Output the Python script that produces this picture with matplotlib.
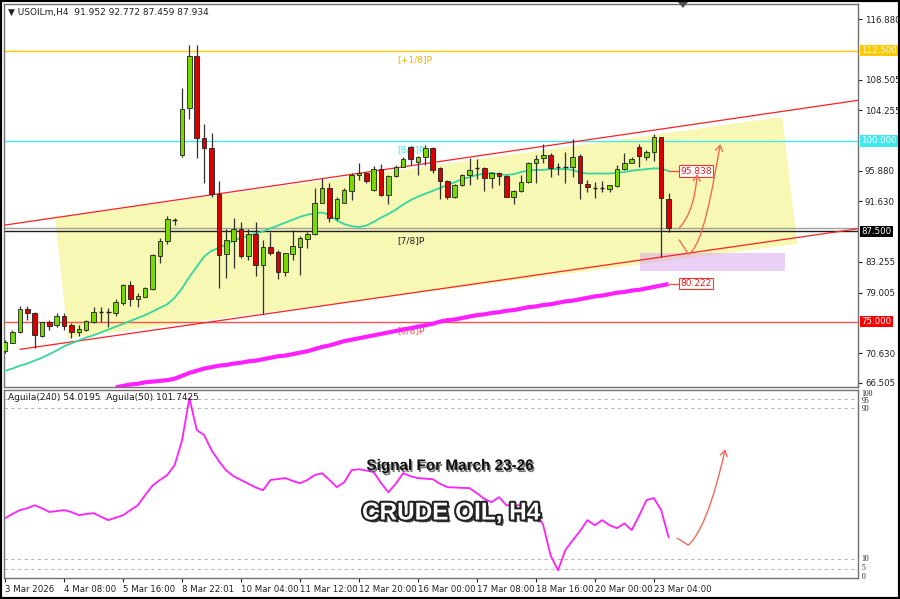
import matplotlib
matplotlib.use("Agg")
import matplotlib.pyplot as plt
import numpy as np
from matplotlib.patches import Polygon, Rectangle, FancyArrowPatch
from matplotlib.path import Path
import matplotlib.patheffects as pe
import matplotlib.transforms as mtrans

# ---------------- data ----------------
opens = [71.0, 72.09, 73.62, 76.71, 76.25, 73.02, 74.9, 74.54, 75.8, 74.54,
         73.52, 73.85, 74.95, 76.38, 76.4, 76.25, 77.63, 80.07, 78.09, 78.46,
         79.57, 84.09, 86.21, 89.1, 98.06, 104.52, 111.76, 100.46, 98.98, 92.62,
         84.36, 86.21, 87.82, 84.09, 87.13, 82.84, 85.38, 84.69, 81.92, 84.36,
         85.38, 86.44, 87.13, 91.47, 93.45, 89.3, 91.46, 93.12, 95.29, 95.61,
         93.21, 96.07, 92.52, 95.15, 96.44, 99.12, 97.14, 97.73, 98.98, 96.21,
         94.46, 92.29, 93.91, 95.29, 96.2, 96.3, 94.83, 95.52, 95.15, 92.29,
         93.07, 94.37, 97.0, 97.6, 98.06, 96.44, 96.4, 96.44, 97.92, 94.05,
         93.54, 93.44, 93.3, 93.77, 96.07, 97.0, 99.12, 97.83, 98.52, 100.5,
         91.952]
highs = [72.5, 73.8, 77.17, 77.17, 76.4, 75.0, 75.25, 76.15, 76.25, 74.77,
         74.54, 75.23, 77.08, 77.08, 76.85, 78.09, 80.21, 80.67, 78.9, 79.75,
         84.3, 86.53, 89.62, 89.3, 107.38, 113.28, 113.28, 102.35, 101.06, 94.46,
         87.82, 89.3, 88.84, 87.82, 88.84, 86.3, 87.45, 84.92, 84.55, 87.68,
         86.85, 87.45, 93.45, 94.92, 94.14, 92.2, 93.44, 95.52, 96.99, 95.75,
         96.53, 96.77, 95.29, 96.67, 97.83, 99.3, 97.92, 99.44, 99.21, 96.44,
         94.6, 94.0, 95.43, 97.69, 97.46, 96.44, 95.75, 95.66, 95.29, 93.21,
         95.29, 97.14, 98.06, 99.58, 98.29, 96.9, 98.52, 100.22, 98.2, 94.6,
         94.37, 94.46, 93.9, 96.67, 98.29, 97.73, 99.53, 98.75, 100.96, 100.6,
         92.772]
lows = [70.6, 72.0, 73.4, 75.23, 71.31, 72.9, 73.85, 74.3, 73.85, 72.7,
        73.0, 73.75, 74.77, 75.0, 74.2, 75.78, 77.31, 77.17, 77.08, 78.37,
        79.38, 83.07, 85.75, 88.4, 97.83, 102.99, 97.69, 94.14, 92.3, 79.61,
        81.0, 82.38, 83.77, 83.53, 81.32, 76.02, 84.23, 80.86, 81.32, 83.53,
        81.46, 85.15, 86.99, 91.37, 88.84, 89.0, 91.37, 91.83, 94.6, 94.14,
        93.12, 92.38, 91.28, 95.06, 96.35, 96.67, 95.29, 96.67, 95.61, 91.92,
        91.92, 92.06, 93.77, 93.91, 94.69, 93.12, 93.54, 93.9, 92.2, 91.23,
        92.98, 94.14, 94.14, 97.0, 95.06, 95.29, 94.14, 95.06, 91.92, 92.98,
        92.06, 92.98, 92.94, 93.67, 95.98, 96.9, 96.44, 97.37, 97.27, 83.99,
        87.459]
closes = [72.2, 73.62, 76.71, 76.25, 73.16, 74.91, 74.45, 75.83, 74.4, 73.62,
          73.94, 75.09, 76.29, 76.4, 76.35, 77.68, 80.07, 78.09, 78.6, 79.61,
          84.18, 86.21, 89.16, 89.15, 104.43, 111.76, 100.46, 98.98, 92.62, 84.23,
          86.3, 87.78, 84.09, 87.13, 82.84, 85.38, 84.55, 81.92, 84.46, 85.47,
          86.53, 87.13, 91.47, 93.45, 89.3, 91.92, 93.21, 95.29, 95.61, 94.5,
          96.07, 92.52, 95.15, 96.44, 97.46, 97.46, 97.73, 98.98, 95.98, 94.46,
          92.29, 93.91, 95.29, 95.98, 96.2, 94.83, 95.52, 95.15, 92.29, 93.12,
          94.37, 97.0, 97.46, 98.06, 96.21, 96.44, 96.5, 97.83, 94.14, 93.67,
          93.54, 93.5, 93.86, 96.07, 97.0, 97.55, 97.92, 98.52, 100.5, 92.06,
          87.934]

ma_fast = [68.2, 68.5, 68.9, 69.2, 69.6, 70.0, 70.5, 71.0, 71.6, 72.0,
           72.4, 72.8, 73.1, 73.5, 73.9, 74.3, 74.7, 75.1, 75.5, 75.9,
           76.4, 76.9, 77.4, 78.3, 79.6, 81.2, 82.6, 84.0, 84.8, 85.2,
           85.7, 86.2, 86.6, 86.9, 87.2, 87.5, 87.9, 88.3, 88.7, 89.1,
           89.5, 89.8, 90.0, 90.1, 89.8, 89.0, 88.5, 88.2, 88.1, 88.3,
           88.8, 89.4, 89.9, 90.5, 91.2, 91.8, 92.3, 92.7, 93.1, 93.5,
           93.9, 94.3, 94.7, 95.0, 95.3, 95.5, 95.6, 95.4, 95.3, 95.4,
           95.7, 95.9, 96.0, 96.0, 96.1, 96.1, 96.1, 96.0, 95.6, 95.5,
           95.5, 95.5, 95.5, 95.6, 95.7, 95.9, 96.0, 96.1, 96.2, 96.2,
           95.84]

ma_slow = [np.nan] * 15 + [
    65.9, 66.1, 66.3, 66.4, 66.6, 66.7, 66.8, 66.9, 67.1, 67.5,
    67.9, 68.2, 68.5, 68.7, 68.9, 69.0, 69.2, 69.3, 69.5, 69.6,
    69.8, 70.0, 70.2, 70.3, 70.5, 70.7, 70.9, 71.2, 71.5, 71.7,
    72.0, 72.3, 72.5, 72.7, 72.9, 73.1, 73.3, 73.5, 73.7, 73.9,
    74.1, 74.3, 74.5, 74.7, 75.0, 75.2, 75.3, 75.5, 75.7, 75.9,
    76.0, 76.2, 76.3, 76.5, 76.6, 76.8, 77.0, 77.1, 77.3, 77.4,
    77.6, 77.8, 77.9, 78.1, 78.3, 78.5, 78.6, 78.8, 79.0, 79.1,
    79.3, 79.4, 79.6, 79.8, 80.0, 80.2]

osc = [31.7, 34, 36, 37, 38.6, 37, 35, 35.5, 36, 35,
       33.3, 34, 34.4, 32.5, 30.7, 32, 33.3, 36, 38.6, 44,
       49, 52, 54.6, 59.9, 73, 95.4, 78.5, 75.8, 67.8, 62,
       57, 54, 52, 50, 48, 46.6, 52, 52.5, 53, 51.5,
       50.3, 52, 54.6, 55.6, 52, 48.2, 50.8, 57.2, 57.7, 57,
       56.2, 50.3, 45.5, 50, 55.6, 54, 53, 52.7, 52.4, 50,
       48.2, 48, 47.8, 47.7, 45, 42, 40.2, 42.9, 38.6, 38.6,
       38.6, 37, 36, 28, 12, 4.1, 14.8, 20, 25, 30.7,
       28, 30.7, 28, 26.4, 29, 25.4, 33, 41.3, 42.4, 36,
       21.7]

xtick_pos = [0, 8, 16, 24, 32, 40, 48, 56, 64, 72, 80, 88]
xtick_labels = ["3 Mar 2026", "4 Mar 08:00", "5 Mar 16:00", "8 Mar 22:01",
                "10 Mar 04:00", "11 Mar 12:00", "12 Mar 20:00", "16 Mar 00:00",
                "17 Mar 08:00", "18 Mar 16:00", "20 Mar 00:00", "23 Mar 04:00"]
price_ticks = [116.880, 108.505, 104.255, 95.880, 91.630, 83.255, 79.005, 70.630, 66.505]
levels = [112.5, 100.0, 87.5, 75.0]
level_names = ["[+1/8]P", "[8/8]P", "[7/8]P", "[6/8]P"]
level_colors = ["#ffc800", "#40e8f0", "#202020", "#ff5050"]
osc_levels = [95, 90, 10, 5]

ma_fast_last = 95.838
ma_slow_last = 80.222

# ---------------- figure ----------------
W, H = 900, 599
FS = 6.2
fig = plt.figure(figsize=(9, 5.99), dpi=100)
fig.patch.set_facecolor("white")

def fr(x0, y0, x1, y1):
    return [x0 / W, 1 - y1 / H, (x1 - x0) / W, (y1 - y0) / H]

ax = fig.add_axes(fr(4, 4, 858, 386.5))
ax2 = fig.add_axes(fr(4, 389.5, 858, 578))

XL = (-0.15, 115.7)
YL = (66.02, 118.96)

# pixel -> data helpers (annotation placement only)
def px_x(x):
    return (x - 5) / 7.37
def px_p(y):
    return 116.88 - (y - 19) / 7.226
def px_v(y):
    return (577.8 - y) / 1.884

ax.set_xlim(*XL)
ax.set_ylim(*YL)

# yellow channel polygon
poly = Polygon([(px_x(55), px_p(218)), (px_x(782), px_p(117)),
                (px_x(797), px_p(244)), (px_x(68), px_p(338))],
               closed=True, facecolor="#f6f8b4", edgecolor="none", zorder=0)
ax.add_patch(poly)
# purple zone
ax.add_patch(Rectangle((px_x(640), px_p(271)), px_x(785) - px_x(640), px_p(253) - px_p(271),
                       facecolor="#d9aaf0", alpha=0.55, edgecolor="none", zorder=1))

# horizontal levels
for lv, nm, c in zip(levels, level_names, level_colors):
    ax.axhline(lv, color=c, lw=1.0, zorder=2)
    ax.text(53.2, lv - 0.6, nm, color=c if c != "#ffc800" else "#f0b400",
            fontsize=FS + 0.4, va="top", ha="left", zorder=3)
# bid line
ax.axhline(closes[-1], color="#a0a0a0", lw=1.0, zorder=2)

# channel lines
ax.plot([0, 115.7], [88.37, 105.63], color="#ff2020", lw=0.9, zorder=3)
ax.plot([2.04, 115.7], [71.17, 87.85], color="#ff2020", lw=0.9, zorder=3)

# moving averages
xs = np.arange(len(closes))
ax.plot(xs, ma_fast, color="#33d6a0", lw=1.3, zorder=4)
ax.plot(xs, ma_slow, color="#ff20ff", lw=3.0, zorder=4, solid_capstyle="butt")

# candles
for i, (o, h, l, c) in enumerate(zip(opens, highs, lows, closes)):
    ax.vlines(i, l, h, color="#303030", lw=0.9, zorder=5)
    bot, top = min(o, c), max(o, c)
    if top - bot < 0.2:
        ax.hlines((o + c) / 2, i - 0.3, i + 0.3, color="#202020", lw=1.0, zorder=6)
    else:
        ax.bar(i, top - bot, bottom=bot, width=0.62,
               color="#78d800" if c >= o else "#d80000",
               edgecolor="#202020", linewidth=0.6, zorder=6)

# label boxes for MAs
for val in [ma_fast_last, ma_slow_last]:
    ax.plot([90, px_x(679)], [val, val], color="#ff5050", lw=1.0, zorder=4)
    ax.text(px_x(680), val, f"{val:.3f}", color="#e02020", fontsize=FS + 0.3, va="center", ha="left",
            bbox=dict(boxstyle="square,pad=0.12", fc="white", ec="#ff3030", lw=0.8), zorder=7)

# arrows
acol = "#f06a58"
p1 = Path([(px_x(679), px_p(228)), (px_x(694), px_p(212)), (px_x(697), px_p(174))],
          [Path.MOVETO, Path.CURVE3, Path.CURVE3])
ax.add_patch(FancyArrowPatch(path=p1, arrowstyle="->,head_length=4,head_width=2.5",
                             color=acol, lw=1.0, zorder=8))
p2 = Path([(px_x(679), px_p(240)), (px_x(688), px_p(254)),
           (px_x(702), px_p(248)), (px_x(712), px_p(190)), (px_x(720), px_p(144))],
          [Path.MOVETO, Path.LINETO, Path.CURVE4, Path.CURVE4, Path.CURVE4])
ax.add_patch(FancyArrowPatch(path=p2, arrowstyle="->,head_length=4,head_width=2.5",
                             color=acol, lw=1.0, zorder=8))

# axes styling
ax.set_xticks([])
ax.yaxis.tick_right()
ax.set_yticks(price_ticks)
ax.set_yticklabels([f"{t:.3f}" for t in price_ticks])
ax.tick_params(axis="y", labelsize=FS, length=3, pad=2, colors="#202020", width=0.8)
for s in ax.spines.values():
    s.set_color("#707070")
    s.set_linewidth(1.0)

trans = mtrans.blended_transform_factory(ax.transAxes, ax.transData)
for lv, c in [(112.5, "#ffc800"), (100.0, "#40e8f0"), (87.5, "#000000"), (75.0, "#ff0000")]:
    ax.text(1.004, lv, f"{lv:.3f}", transform=trans, fontsize=FS, color="white",
            va="center", ha="left", zorder=9, clip_on=False,
            bbox=dict(boxstyle="square,pad=0.12", fc=c, ec="none"))

# ---------------- oscillator ----------------
ax2.set_xlim(*XL)
ax2.set_ylim(0, 100)
for lv in osc_levels:
    ax2.axhline(lv, color="#b8b8b8", lw=0.8, ls=(0, (3, 3)))
ax2.plot(xs, osc, color="#ff20ff", lw=1.3)
ax2.set_yticks([])
ax2.set_xticks(xtick_pos)
ax2.set_xticklabels(xtick_labels, ha="left")
ax2.tick_params(axis="x", labelsize=FS, length=3, pad=2, colors="#202020", width=0.8)
for s in ax2.spines.values():
    s.set_color("#707070")
    s.set_linewidth(1.0)
t2 = mtrans.blended_transform_factory(ax2.transAxes, ax2.transData)
for v, lab, va in [(100.0, "100", "top"), (93.9, "95", "center"), (89.4, "90", "center"),
                   (10, "10", "center"), (5.4, "5", "center"), (-1.5, "0", "bottom")]:
    ax2.text(1.004, v, lab, transform=t2, fontsize=5.6, family="Liberation Serif",
             va=va, ha="left", clip_on=False, color="#202020")

# lower arrow
p3 = Path([(px_x(677), px_v(538)), (px_x(688), px_v(545)),
           (px_x(705), px_v(530)), (px_x(718), px_v(480)), (px_x(725), px_v(449))],
          [Path.MOVETO, Path.LINETO, Path.CURVE4, Path.CURVE4, Path.CURVE4])
ax2.add_patch(FancyArrowPatch(path=p3, arrowstyle="->,head_length=4,head_width=2.5",
                              color=acol, lw=1.0, zorder=8))

# overlay texts
fig.text(8 / W, 1 - 12 / H, "\u25BC USOILm,H4  91.952 92.772 87.459 87.934",
         fontsize=FS + 0.3, va="center", ha="left", color="#202020")
fig.text(8 / W, 1 - 398 / H, "Aguila(240) 54.0195  Aguila(50) 101.7425",
         fontsize=FS + 0.3, va="center", ha="left", color="#202020")
fig.text(450 / W, 1 - 466 / H, "Signal For March 23-26", fontsize=11,
         family="Liberation Sans", weight="bold", color="#111111", ha="center", va="center",
         path_effects=[pe.SimplePatchShadow(offset=(1, -1.5), shadow_rgbFace="#555555", alpha=0.8),
                       pe.Normal()])
fig.text(451 / W, 1 - 513 / H, "CRUDE OIL, H4", fontsize=17.5,
         family="Liberation Sans", weight="bold", color="white", ha="center", va="center",
         path_effects=[pe.SimplePatchShadow(offset=(2, -2), shadow_rgbFace="#333333", alpha=0.9),
                       pe.withStroke(linewidth=3, foreground="#222222")])

# chart shift marker
fig.patches.append(Polygon([(678 / W, 1 - 2 / H), (688 / W, 1 - 2 / H), (683 / W, 1 - 8 / H)],
                           closed=True, transform=fig.transFigure, facecolor="#505050",
                           edgecolor="none"))
# outer frame
fig.patches.append(Rectangle((0, 0), 1, 1, transform=fig.transFigure, fill=False,
                             edgecolor="black", lw=3))

fig.savefig("out.png", dpi=100, facecolor="white")
